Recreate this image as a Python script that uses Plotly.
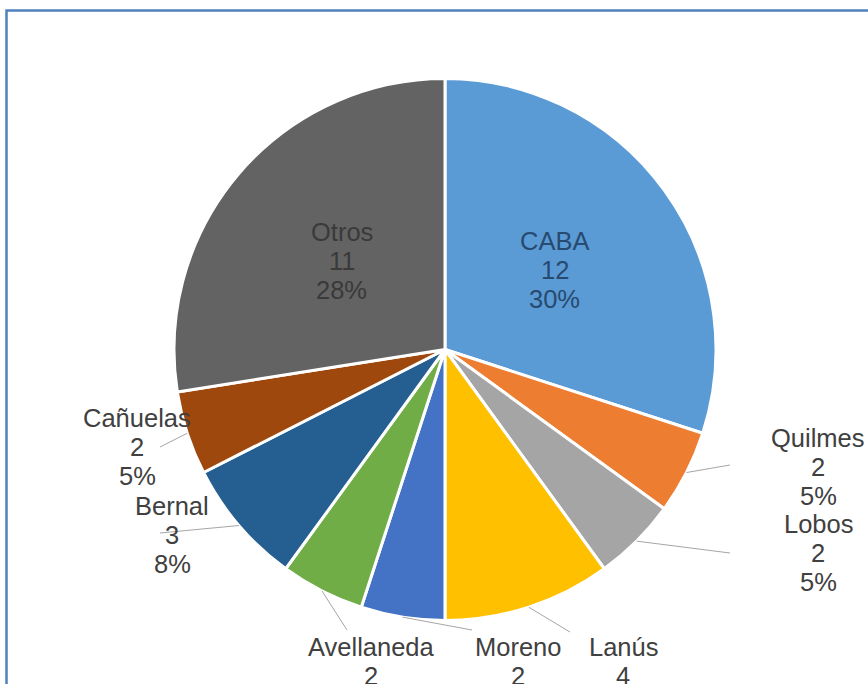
import math
import plotly.graph_objects as go

# Data
labels = ["CABA", "Quilmes", "Lobos", "Lanús", "Moreno", "Avellaneda", "Bernal", "Cañuelas", "Otros"]
values = [12, 2, 2, 4, 2, 2, 3, 2, 11]
colors = ["#5B9BD5", "#ED7D31", "#A5A5A5", "#FFC000", "#4472C4",
          "#70AD47", "#255E91", "#9E480E", "#636363"]

# Layout geometry (pixels)
W, H = 868, 684
CX, CY, R = 445, 349.5, 271
FONT = "Liberation Sans, Arial, sans-serif"
FS = 25.5
LINE_H = 29
TEXT_COLOR = "#404040"

inside_labels = {"CABA": "#274a70", "Otros": "#3a3a3a"}
# outside label placement: centre of middle text line, and leader line end (px)
outside_pos = {
    "Quilmes": ((818, 467), (730, 465)),
    "Lobos": ((818, 553), (730, 553)),
    "Lanús": ((623, 676), (570, 632)),
    "Moreno": ((518, 676), (472, 630)),
    "Avellaneda": ((371, 676), (347, 630)),
    "Bernal": ((172, 535), (160, 533)),
    "Cañuelas": ((137, 447), (160, 447)),
}


def px(x):
    return x / W


def py(y):
    return 1 - y / H


total = sum(values)

fig = go.Figure(go.Pie(
    labels=labels,
    values=values,
    sort=False,
    direction="clockwise",
    rotation=0,
    marker=dict(colors=colors, line=dict(color="white", width=3)),
    textinfo="none",
    hoverinfo="label+value+percent",
    showlegend=False,
    domain=dict(x=[px(CX - R), px(CX + R)], y=[py(CY + R), py(CY - R)]),
))

annotations = []
shapes = []
cum = 0
for lab, val in zip(labels, values):
    mid = (cum + val / 2) / total * 360.0
    cum += val
    pct = int(math.floor(val / total * 100 + 0.5))
    lines = [lab, str(val), f"{pct}%"]
    sx, sy = math.sin(math.radians(mid)), -math.cos(math.radians(mid))
    if lab in inside_labels:
        tx, ty = CX + 0.5 * R * sx, CY + 0.5 * R * sy
        col = inside_labels[lab]
    else:
        (tx, ty), (ex, ey) = outside_pos[lab]
        col = TEXT_COLOR
        shapes.append(dict(
            type="line", xref="paper", yref="paper",
            x0=px(CX + R * sx), y0=py(CY + R * sy), x1=px(ex), y1=py(ey),
            line=dict(color="#a6a6a6", width=1),
        ))
    for i, t in enumerate(lines):
        annotations.append(dict(
            text=t, x=px(tx), y=py(ty + (i - 1) * LINE_H),
            xref="paper", yref="paper", xanchor="center", yanchor="middle",
            showarrow=False, font=dict(family=FONT, size=FS, color=col),
        ))

# chart frame
shapes.append(dict(
    type="rect", xref="paper", yref="paper",
    x0=px(6.5), x1=px(W + 10), y0=py(H + 10), y1=py(10.5),
    line=dict(color="#4f81bd", width=2.5), fillcolor="rgba(0,0,0,0)",
))

fig.update_layout(
    width=W, height=H,
    margin=dict(l=0, r=0, t=0, b=0),
    paper_bgcolor="white",
    plot_bgcolor="white",
    annotations=annotations,
    shapes=shapes,
)

fig.write_html("out.html")
